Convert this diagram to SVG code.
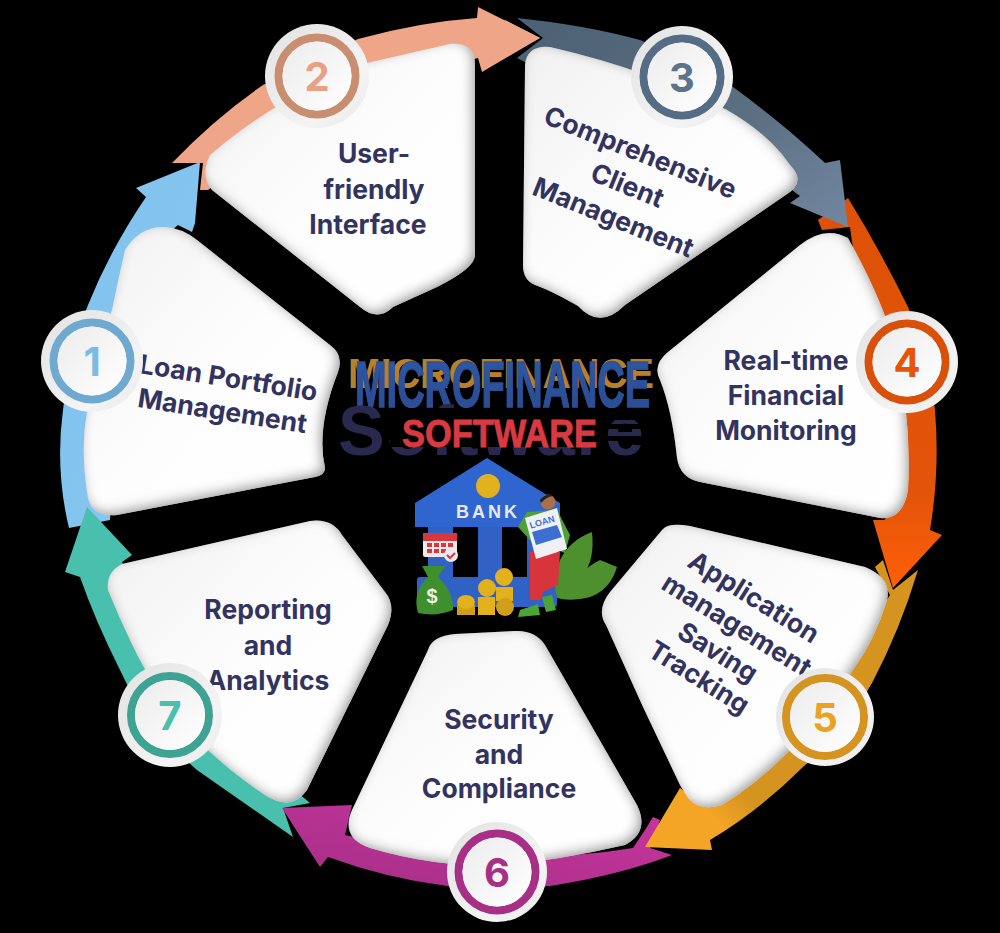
<svg xmlns="http://www.w3.org/2000/svg" width="1000" height="933" viewBox="0 0 1000 933">
<style>
.lbl{font-family:Inter,"Liberation Sans",sans-serif;font-weight:700;font-size:26.5px;fill:#33335f;text-anchor:middle}
.num{font-family:Inter,"Liberation Sans",sans-serif;font-weight:700;font-size:40px;text-anchor:middle}
.card{fill:url(#cardFill);filter:url(#bevel)}
.rim{fill:url(#rimFill);filter:url(#soft)}
.core{fill:url(#coreFill)}
.ring{fill:none;stroke-width:8}
.gold{fill:#e3b01e}
.gold2{fill:#cf9f1a}
.blue{fill:#2f62c4}
.logo{font-family:"Liberation Sans",sans-serif;font-weight:700}
</style>
<defs>
<linearGradient id="cardFill" x1="0" y1="0" x2="1" y2="1"><stop offset="0" stop-color="#f1f1f1"/><stop offset=".5" stop-color="#fdfdfd"/><stop offset="1" stop-color="#ffffff"/></linearGradient>
<linearGradient id="rimFill" x1="0" y1="0" x2="1" y2="1"><stop offset="0" stop-color="#e2e2e2"/><stop offset=".7" stop-color="#f4f4f4"/><stop offset="1" stop-color="#e8e8e8"/></linearGradient>
<linearGradient id="coreFill" x1="0" y1="0" x2="1" y2="1"><stop offset="0" stop-color="#ececec"/><stop offset="1" stop-color="#ffffff"/></linearGradient>
<linearGradient id="ar1" x1="0" y1="0" x2="1" y2="1"><stop offset="0" stop-color="#7fc3ee"/><stop offset="1" stop-color="#88c6f0"/></linearGradient>
<linearGradient id="ar3" x1="0" y1="0" x2="1" y2="1"><stop offset="0" stop-color="#4c6074"/><stop offset=".6" stop-color="#5c7084"/><stop offset="1" stop-color="#7286a0"/></linearGradient>
<linearGradient id="ar4" x1="0" y1="0" x2="0" y2="1"><stop offset="0" stop-color="#dd5208"/><stop offset=".75" stop-color="#e2540a"/><stop offset="1" stop-color="#ff5e07"/></linearGradient>
<linearGradient id="ar5" x1="1" y1="0" x2="0" y2="1"><stop offset="0" stop-color="#d5931f"/><stop offset=".72" stop-color="#d5931f"/><stop offset=".82" stop-color="#f5a526"/><stop offset="1" stop-color="#f5a526"/></linearGradient>
<linearGradient id="ar6" x1="1" y1="0" x2="0" y2="1"><stop offset="0" stop-color="#c9359f"/><stop offset="1" stop-color="#a42f85"/></linearGradient>
<linearGradient id="logoB" x1="0" y1="0" x2="0" y2="1"><stop offset="0" stop-color="#2e5aa8"/><stop offset="1" stop-color="#2a4a8e"/></linearGradient>
<filter id="bevel" x="-5%" y="-5%" width="110%" height="110%">
<feGaussianBlur in="SourceAlpha" stdDeviation="6" result="b"/>
<feOffset in="b" dx="-3" dy="-3" result="o"/>
<feComposite in="SourceAlpha" in2="o" operator="out" result="edge"/>
<feFlood flood-color="#8f8f8f" flood-opacity=".95"/>
<feComposite in2="edge" operator="in" result="shade"/>
<feMerge><feMergeNode in="SourceGraphic"/><feMergeNode in="shade"/></feMerge>
</filter>
<filter id="soft" x="-10%" y="-10%" width="120%" height="120%"><feGaussianBlur stdDeviation=".7"/></filter>
</defs>
<rect width="1000" height="933" fill="#000"/>
<g id="connectors">
<path id="arrow-2" fill="#efa688" d="M172 163Q215 118 263 85L358 39Q420 22 477 18L478 7L540 38L482 72L478 58Q340 90 208 190L200 190L203 163Z"/>
<path id="arrow-1" fill="url(#ar1)" d="M69 528Q55 470 63 410Q70 350 88 305Q110 250 146 197L136 188L200 162L195 223L192 232L178 225L160 240L120 300L110 520Z"/>
<path id="arrow-7" fill="#49c0ad" d="M293 837L197 770Q145 725 120 670Q95 620 80 577L65 572L87 507L132 555L122 562Q170 690 310 803L283 808Z"/>
<path id="arrow-6" fill="url(#ar6)" d="M672 855Q620 875 550 886Q500 890 447 886Q385 878 328 857L320 867L282 808L352 805L345 835Q500 870 633 848L645 830L653 817L660 820L650 848Z"/>
<path id="arrow-5" fill="url(#ar5)" d="M875 567L883 560L893 590L918 570Q900 630 872 683Q845 730 803 767Q760 810 710 840L712 850L645 847L680 788L690 795Q790 720 860 640L890 595Z"/>
<path id="arrow-4" fill="url(#ar4)" d="M848 198Q880 250 908 307Q930 360 935 410Q940 470 930 530L942 535L893 588L873 520L885 520Q895 420 860 300L850 227L822 230L818 220Z"/>
<path id="arrow-3" fill="url(#ar3)" d="M517 18Q585 25 640 40Q690 60 733 87Q785 125 825 163L840 160L848 227L790 203L800 196Q740 150 600 100L517 58L543 38Z"/>
<path id="arrow-2-tip" fill="#efa688" d="M505 20L540 38L505 56Z"/>
</g>
<g id="node-1"><path class="card" d="M125 250Q140 226 165 227Q182 228 197 240L330 345Q344 355 338 372Q316 428 325 468Q325 475 315 477L117 515Q92 517 88 498Q80 450 87 413Q95 355 112 310Q118 280 125 250Z"/>
<text class="lbl" x="227" y="387" transform="rotate(9 227 387)">Loan Portfolio</text><text class="lbl" x="221" y="420" transform="rotate(9 221 420)">Management</text></g>
<g id="node-2"><path class="card" d="M210 155Q280 95 367 63L450 44Q475 42 475 65L475 255Q475 268 437 287L393 307Q378 322 360 307L212 190Q200 175 210 155Z"/>
<text class="lbl" x="374" y="163">User-</text><text class="lbl" x="374" y="199">friendly</text><text class="lbl" x="368" y="234">Interface</text></g>
<g id="node-3"><path class="card" d="M525 65Q527 45 550 47Q650 70 727 110Q770 135 790 165Q805 180 790 192L625 305Q600 330 578 306Q550 290 535 285Q523 280 523 265Z"/>
<text class="lbl" x="637" y="161" transform="rotate(22 637 161)">Comprehensive</text><text class="lbl" x="624" y="194" transform="rotate(22 624 194)">Client</text><text class="lbl" x="610" y="226" transform="rotate(22 610 226)">Management</text></g>
<g id="node-4"><path class="card" d="M800 245Q825 225 848 238Q880 295 895 345Q912 420 908 490Q903 520 880 518L700 482Q680 478 677 458Q672 410 660 380Q652 365 668 352Z"/>
<text class="lbl" x="786" y="370">Real-time</text><text class="lbl" x="786" y="405">Financial</text><text class="lbl" x="786" y="440">Monitoring</text></g>
<g id="node-5"><path class="card" d="M662 530Q668 522 690 526L865 567Q892 578 887 600Q875 640 853 670Q825 715 787 753Q755 785 722 805Q700 812 688 798L680 785L643 707L606 625Q596 610 610 592Z"/>
<text class="lbl" x="749" y="605" transform="rotate(32 749 605)">Application</text><text class="lbl" x="732" y="633" transform="rotate(32 732 633)">management</text><text class="lbl" x="713" y="660" transform="rotate(32 713 660)">Saving</text><text class="lbl" x="694" y="685" transform="rotate(32 694 685)">Tracking</text></g>
<g id="node-6"><path class="card" d="M428 650Q432 636 455 634L515 631Q535 630 545 645L637 805Q650 832 625 845Q560 860 497 866Q430 866 370 848Q340 838 352 810Z"/>
<text class="lbl" x="499" y="729">Security</text><text class="lbl" x="499" y="764">and</text><text class="lbl" x="499" y="798">Compliance</text></g>
<g id="node-7"><path class="card" d="M122 564L310 521Q332 518 342 535L385 592Q396 605 388 625L307 790Q292 812 265 795Q235 775 210 752Q160 705 130 640Q118 615 108 590Q106 572 122 564Z"/>
<text class="lbl" x="268" y="619">Reporting</text><text class="lbl" x="268" y="655">and</text><text class="lbl" x="268" y="690">Analytics</text></g>
<g id="badge-1"><circle class="rim" cx="92" cy="361" r="51"/><circle class="ring" cx="92" cy="361" r="38.5" stroke="#6fa9cf"/><circle class="core" cx="92" cy="361" r="34.5"/><text class="num" x="92" y="376" fill="#79bde6">1</text></g>
<g id="badge-2"><circle class="rim" cx="317" cy="76" r="52"/><circle class="ring" cx="317" cy="76" r="38.5" stroke="#c98e70"/><circle class="core" cx="317" cy="76" r="34.5"/><text class="num" x="317" y="91" fill="#e8a283">2</text></g>
<g id="badge-3"><circle class="rim" cx="682" cy="77" r="51"/><circle class="ring" cx="682" cy="77" r="38.5" stroke="#546c84"/><circle class="core" cx="682" cy="77" r="34.5"/><text class="num" x="682" y="92" fill="#5d7389">3</text></g>
<g id="badge-4"><circle class="rim" cx="907" cy="362" r="51"/><circle class="ring" cx="907" cy="362" r="38.5" stroke="#d9500a"/><circle class="core" cx="907" cy="362" r="34.5"/><text class="num" x="907" y="377" fill="#e65507">4</text></g>
<g id="badge-5"><circle class="rim" cx="825" cy="717" r="49"/><circle class="ring" cx="825" cy="717" r="39" stroke="#d5931f"/><circle class="core" cx="825" cy="717" r="35"/><text class="num" x="825" y="732" fill="#eba123">5</text></g>
<g id="badge-6"><circle class="rim" cx="497" cy="872" r="50"/><circle class="ring" cx="497" cy="872" r="38.5" stroke="#a72f85"/><circle class="core" cx="497" cy="872" r="34.5"/><text class="num" x="497" y="887" fill="#a72f85">6</text></g>
<g id="badge-7"><circle class="rim" cx="170" cy="715" r="52"/><circle class="ring" cx="170" cy="715" r="39" stroke="#3fa393"/><circle class="core" cx="170" cy="715" r="35"/><text class="num" x="170" y="730" fill="#49c0ad">7</text></g>
<g id="logo">
<text class="logo" x="348" y="388" font-size="42" fill="#b9802c" textLength="306" lengthAdjust="spacingAndGlyphs">MICROFINANCE</text>
<text class="logo" x="355" y="407" font-size="65" fill="url(#logoB)" stroke="#2c4f98" stroke-width="1.5" textLength="295" lengthAdjust="spacingAndGlyphs">MICROFINANCE</text>
<text class="logo" x="338" y="455" font-size="70" fill="#29294f" textLength="306" lengthAdjust="spacing">Software</text>
<path d="M385 408H650V420H385Z M390 420H607V447H390Z M607 424H650V429H607Z M607 436H650V441H607Z M385 430H400V440H385Z" fill="#000"/>
<text class="logo" x="402" y="447" font-size="38" fill="#d93a42" stroke="#d93a42" stroke-width=".8" textLength="195" lengthAdjust="spacingAndGlyphs">SOFTWARE</text>
</g>
<g id="bank">
<rect class="blue" x="417" y="577" width="140" height="30" rx="3"/>
<rect class="blue" x="428" y="525" width="25" height="54"/><rect class="blue" x="478" y="525" width="24" height="54"/><rect class="blue" x="527" y="525" width="20" height="54"/>
<path fill="#2f65cf" d="M487 458L415 503V527H560V503Z"/>
<circle class="gold" cx="488" cy="486" r="12"/>
<text x="488" y="518" class="logo" font-size="18" fill="#e6e8ee" text-anchor="middle" letter-spacing="3">BANK</text>
<rect x="423" y="533" width="34" height="24" rx="2" fill="#f3e9e9"/><rect x="423" y="533" width="34" height="8" fill="#d9363e"/>
<path d="M427 543h5v4h-5zM434 543h5v4h-5zM441 543h5v4h-5zM448 543h5v4h-5zM427 549h5v4h-5zM434 549h5v4h-5zM441 549h5v4h-5z" fill="#d9363e"/>
<circle cx="451" cy="555" r="7" fill="#e9e9ee"/><path d="M447 555l3 3 5-5" fill="none" stroke="#d9363e" stroke-width="2"/>
<path fill="#3e8f2d" d="M422 566H445L438 577Q454 592 453 610Q436 617 418 613Q412 592 428 577Z"/>
<text x="432" y="603" class="logo" font-size="20" fill="#eef2ea" text-anchor="middle">$</text>
<rect class="gold2" x="457" y="605" width="18" height="10"/><ellipse class="gold" cx="466" cy="602" rx="9" ry="7"/>
<rect class="gold" x="478" y="597" width="17" height="18"/><circle class="gold" cx="487" cy="588" r="9"/>
<rect class="gold" x="496" y="587" width="17" height="14"/><circle class="gold" cx="504" cy="577" r="9"/><circle class="gold2" cx="505" cy="607" r="9"/>
<path fill="#4e8f2e" d="M560 560Q570 540 592 532Q595 560 583 575Q575 590 557 598Q552 580 560 560Z"/>
<path fill="#4e8f2e" d="M557 598Q580 570 600 560L617 567Q610 590 590 597Q570 602 557 598Z"/>
<path fill="#4fa135" d="M518 527L527 512L557 510L570 535L565 553L530 540Z"/>
<path fill="#d8343c" d="M530 552H560L558 585L543 592L541 600H530Z"/>
<path fill="#4ca436" d="M518 617L520 610L538 604L540 615Z M542 597L552 595L556 610L546 612Z"/>
<circle cx="548" cy="502" r="7.5" fill="#a9704a"/><path d="M540 500Q548 490 557 499L553 496Q546 497 541 503Z" fill="#222"/>
<path fill="#eef0f4" d="M525 518L557 508L567 549L536 559Z"/>
<path fill="#3d6fd0" d="M532 532L557 525L562 537L536 545Z"/>
<text x="543" y="525" transform="rotate(-17 543 525)" class="logo" font-size="9" fill="#3d6fd0" text-anchor="middle">LOAN</text>
</g>
</svg>
